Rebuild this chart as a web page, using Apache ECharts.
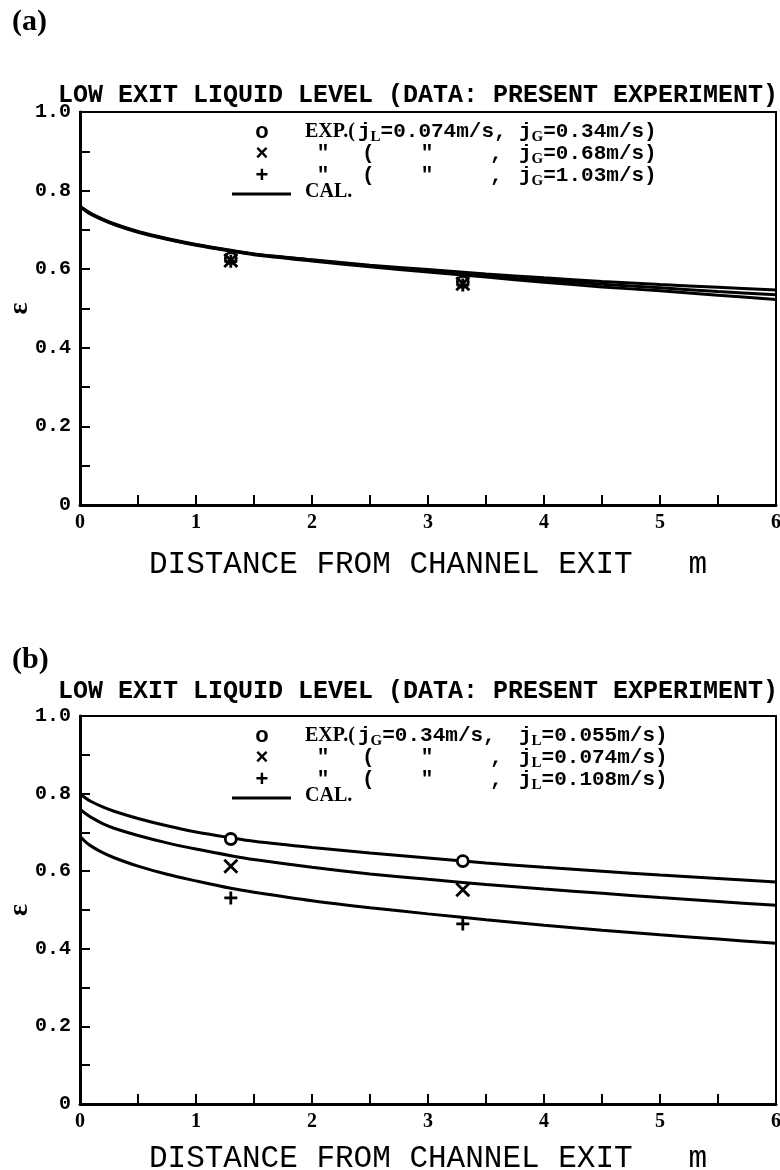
<!DOCTYPE html>
<html lang="en">
<head>
<meta charset="UTF-8">
<title>Void fraction vs distance from channel exit</title>
<script src="https://cdn.jsdelivr.net/npm/echarts@6/dist/echarts.min.js"></script>
<style>
html, body { margin: 0; padding: 0; background: #fff; }
#main { width: 780px; height: 1170px; }
</style>
</head>
<body>
<div id="main"></div>
<script type="text/javascript">
// distance from channel exit (m) used for the CAL. curves
var xCal = [0, 0.05, 0.1, 0.2, 0.3, 0.5, 0.75, 1, 1.3, 1.5, 2, 2.5, 3, 3.5, 4, 4.5, 5, 5.5, 6];

// (a) jL = 0.074 m/s ; jG = 0.34 / 0.68 / 1.03 m/s
var calA1 = [0.76, 0.750, 0.741, 0.727, 0.715, 0.696, 0.678, 0.663, 0.648, 0.639, 0.624, 0.610, 0.599, 0.588, 0.578, 0.569, 0.561, 0.554, 0.547];
var calA2 = [0.76, 0.749, 0.740, 0.726, 0.714, 0.695, 0.677, 0.662, 0.647, 0.638, 0.623, 0.608, 0.596, 0.584, 0.573, 0.562, 0.553, 0.543, 0.535];
var calA3 = [0.76, 0.748, 0.739, 0.725, 0.713, 0.694, 0.676, 0.661, 0.646, 0.637, 0.621, 0.606, 0.593, 0.580, 0.567, 0.555, 0.545, 0.534, 0.523];

// (b) jG = 0.34 m/s ; jL = 0.055 / 0.074 / 0.108 m/s
var calB1 = [0.80, 0.788, 0.779, 0.765, 0.754, 0.736, 0.717, 0.701, 0.686, 0.677, 0.661, 0.647, 0.634, 0.621, 0.610, 0.600, 0.590, 0.581, 0.572];
var calB2 = [0.76, 0.748, 0.738, 0.722, 0.710, 0.692, 0.673, 0.657, 0.640, 0.630, 0.610, 0.593, 0.579, 0.566, 0.554, 0.543, 0.532, 0.522, 0.512];
var calB3 = [0.69, 0.675, 0.664, 0.647, 0.634, 0.613, 0.592, 0.575, 0.556, 0.546, 0.524, 0.506, 0.490, 0.475, 0.461, 0.448, 0.436, 0.425, 0.414];

// measured points
var xExp = [1.3, 3.3];
var expA1 = [0.628, 0.568];
var expA2 = [0.622, 0.563];
var expA3 = [0.620, 0.560];
var expB1 = [0.683, 0.626];
var expB2 = [0.613, 0.552];
var expB3 = [0.531, 0.464];

var yTicks = ['0', '0.2', '0.4', '0.6', '0.8', '1.0'];

function pairs(xs, ys) {
	return xs.map(function (x, i) { return [x, ys[i]]; });
}

var crossPath = 'path://M0,0L10,10M10,0L0,10';
var plusPath = 'path://M5,0L5,10M0,5L10,5';

var mono = 'Liberation Mono';
var serif = 'Liberation Serif';

function calLine(name, idx, ys) {
	return {
		name: name, type: 'line', xAxisIndex: idx, yAxisIndex: idx,
		data: pairs(xCal, ys), showSymbol: false, smooth: 0.3,
		lineStyle: { color: '#000', width: 3 }, silent: true, z: 2
	};
}
function expPts(name, idx, ys, symbol) {
	return {
		name: name, type: 'scatter', xAxisIndex: idx, yAxisIndex: idx,
		data: pairs(xExp, ys), symbol: symbol,
		symbolSize: symbol === 'circle' ? 11 : 13,
		itemStyle: { color: symbol === 'circle' ? '#fff' : 'transparent', borderColor: '#000', borderWidth: 2.8, opacity: 1 },
		z: 3
	};
}

function xAxisCfg(idx, gap) {
	return {
		type: 'value', gridIndex: idx, min: 0, max: 6, interval: 0.5,
		name: 'DISTANCE FROM CHANNEL EXIT   m', nameLocation: 'middle', nameGap: gap,
		nameMoveOverlap: false,
		nameTextStyle: { fontFamily: mono, fontSize: 31, color: '#000' },
		axisLine: { lineStyle: { color: '#000', width: 3 } },
		axisTick: { inside: true, length: 10, lineStyle: { color: '#000', width: 2 } },
		axisLabel: {
			margin: 8, color: '#000', fontFamily: serif, fontWeight: 'bold', fontSize: 20,
			formatter: function (v) { return v % 1 === 0 ? String(v) : ''; }
		},
		splitLine: { show: false }
	};
}
function yAxisCfg(idx) {
	return {
		type: 'value', gridIndex: idx, min: 0, max: 1, interval: 0.1,
		name: 'ε', nameLocation: 'middle', nameGap: 46, nameRotate: 90,
		nameMoveOverlap: false,
		nameTextStyle: { fontFamily: serif, fontWeight: 'bold', fontSize: 28, color: '#000' },
		axisLine: { lineStyle: { color: '#000', width: 3 } },
		axisTick: { inside: true, length: 10, lineStyle: { color: '#000', width: 2 } },
		axisLabel: {
			margin: 9, color: '#000', fontFamily: mono, fontWeight: 'bold', fontSize: 20,
			formatter: function (v) {
				var k = Math.round(v * 10);
				return k % 2 ? '' : yTicks[k / 2];
			}
		},
		splitLine: { show: false }
	};
}

// legend block drawn as text, top = y of first row
function legendBlock(top, row1a, row1b, row2, row3) {
	var sub = { fontFamily: serif, fontWeight: 'bold', fontSize: 15, padding: [10, 0, 0, 0] };
	var main = { fontFamily: mono, fontWeight: 'bold', fontSize: 21 };
	var rich = { j: main, s: sub, t: main };
	function txt(x, y, s, extra) {
		var st = { text: s, x: x, y: y, fill: '#000', verticalAlign: 'middle', rich: rich,
			font: 'bold 21px "Liberation Mono"' };
		if (extra) for (var k in extra) st[k] = extra[k];
		return { type: 'text', style: st };
	}
	var sym = { font: 'bold 22px "Liberation Sans"', align: 'center' };
	var rows = [top, top + 22, top + 44];
	var els = [
		txt(262, rows[0], 'o', sym),
		txt(262, rows[1], '×', sym),
		txt(262, rows[2], '+', sym),
		txt(305, rows[0], 'EXP.(', { font: 'bold 20px "Liberation Serif"' }),
		txt(358, rows[0], row1a),
		txt(519, rows[0], row1b)
	];
	[row2, row3].forEach(function (r, i) {
		var y = rows[i + 1];
		els.push(txt(323, y, '"', { align: 'center' }));
		els.push(txt(362, y, '(', {}));
		els.push(txt(427, y, '"', { align: 'center' }));
		els.push(txt(490, y, ',', {}));
		els.push(txt(519, y, r));
	});
	els.push({ type: 'line', shape: { x1: 232, y1: top + 62, x2: 291, y2: top + 62 },
		style: { stroke: '#000', lineWidth: 3 } });
	els.push(txt(305, top + 60, 'CAL.', { font: 'bold 20px "Liberation Serif"' }));
	return els;
}

var gridTops = [112, 716];
var titleText = 'LOW EXIT LIQUID LEVEL (DATA: PRESENT EXPERIMENT)';

var graphics = [
	{ type: 'text', style: { text: '(a)', x: 12, y: 22, verticalAlign: 'middle', font: 'bold 30px "Liberation Serif"', fill: '#000' } },
	{ type: 'text', style: { text: '(b)', x: 12, y: 660, verticalAlign: 'middle', font: 'bold 30px "Liberation Serif"', fill: '#000' } },
	{ type: 'text', style: { text: titleText, x: 778, y: 96, align: 'right', verticalAlign: 'middle', font: 'bold 25px "Liberation Mono"', fill: '#000' } },
	{ type: 'text', style: { text: titleText, x: 778, y: 692, align: 'right', verticalAlign: 'middle', font: 'bold 25px "Liberation Mono"', fill: '#000' } }
].concat(
	legendBlock(gridTops[0] + 20, '{j|j}{s|L}{t|=0.074m/s,}', '{j|j}{s|G}{t|=0.34m/s)}', '{j|j}{s|G}{t|=0.68m/s)}', '{j|j}{s|G}{t|=1.03m/s)}'),
	legendBlock(gridTops[1] + 20, '{j|j}{s|G}{t|=0.34m/s,}', '{j|j}{s|L}{t|=0.055m/s)}', '{j|j}{s|L}{t|=0.074m/s)}', '{j|j}{s|L}{t|=0.108m/s)}')
);

var option = {
	backgroundColor: '#fff',
	animation: false,
	grid: [
		{ left: 80, right: 4, top: gridTops[0], height: 393, outerBoundsMode: 'none', show: true, borderColor: '#000', borderWidth: 2, backgroundColor: 'transparent' },
		{ left: 80, right: 4, top: gridTops[1], height: 388, outerBoundsMode: 'none', show: true, borderColor: '#000', borderWidth: 2, backgroundColor: 'transparent' }
	],
	xAxis: [xAxisCfg(0, 44), xAxisCfg(1, 39)],
	yAxis: [yAxisCfg(0), yAxisCfg(1)],
	graphic: graphics,
	series: [
		calLine('CAL. jG=0.34', 0, calA1),
		calLine('CAL. jG=0.68', 0, calA2),
		calLine('CAL. jG=1.03', 0, calA3),
		expPts('EXP. jG=0.34', 0, expA1, 'circle'),
		expPts('EXP. jG=0.68', 0, expA2, crossPath),
		expPts('EXP. jG=1.03', 0, expA3, plusPath),
		calLine('CAL. jL=0.055', 1, calB1),
		calLine('CAL. jL=0.074', 1, calB2),
		calLine('CAL. jL=0.108', 1, calB3),
		expPts('EXP. jL=0.055', 1, expB1, 'circle'),
		expPts('EXP. jL=0.074', 1, expB2, crossPath),
		expPts('EXP. jL=0.108', 1, expB3, plusPath)
	]
};

var chart = echarts.init(document.getElementById('main'));
chart.setOption(option);
</script>
</body>
</html>
